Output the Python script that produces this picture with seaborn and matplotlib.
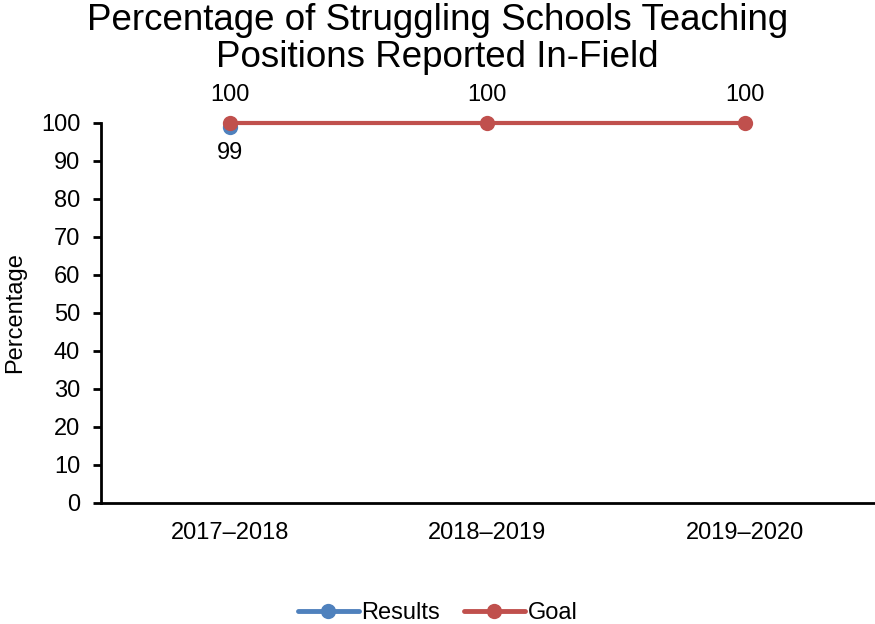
import numpy as np
import pandas as pd
import matplotlib
matplotlib.use('Agg')
import matplotlib.pyplot as plt
import seaborn as sns

# Chart data
years = ['2017–2018', '2018–2019', '2019–2020']
results = [99, np.nan, np.nan]
goal = [100, 100, 100]

sns.set_style('white')
plt.rcParams['font.family'] = ['Liberation Sans', 'DejaVu Sans']
plt.rcParams['text.color'] = 'black'
plt.rcParams['axes.labelcolor'] = 'black'
plt.rcParams['xtick.color'] = 'black'
plt.rcParams['ytick.color'] = 'black'

df = pd.DataFrame({'Year': years, 'Results': results, 'Goal': goal})
long = df.melt(id_vars='Year', var_name='Series', value_name='Value')

fig = plt.figure(figsize=(8.75, 6.24), dpi=100)
ax = fig.add_axes([0.1154, 0.194, 0.883, 0.609])

palette = {'Results': '#4F81BD', 'Goal': '#C0504D'}
sns.lineplot(data=long, x='Year', y='Value', hue='Series', palette=palette,
             marker='o', markersize=11, markeredgewidth=0, linewidth=3,
             sort=False, ax=ax, legend=False)
for ln in ax.lines:
    ln.set_clip_on(False)

# data labels
for i, v in enumerate(results):
    if not np.isnan(v):
        ax.annotate(f'{v:.0f}', (i, v), xytext=(0, -11), textcoords='offset points',
                    ha='center', va='top', fontsize=17)
for i, v in enumerate(goal):
    ax.annotate(f'{v:.0f}', (i, v), xytext=(0, 12), textcoords='offset points',
                ha='center', va='bottom', fontsize=17)

ax.set_xlim(-0.5, 2.5)
ax.set_ylim(0, 100)
ax.set_yticks(range(0, 101, 10))
ax.set_xlabel('')
ax.set_ylabel('Percentage', fontsize=17)
ax.yaxis.set_label_coords(-0.097, 0.5)
ax.tick_params(axis='y', labelsize=17, length=6, width=2, direction='out', left=True, pad=9)
ax.tick_params(axis='x', labelsize=17, length=0, pad=14)
for s in ['top', 'right']:
    ax.spines[s].set_visible(False)
for s in ['left', 'bottom']:
    ax.spines[s].set_linewidth(2)
    ax.spines[s].set_color('black')

fig.suptitle('Percentage of Struggling Schools Teaching\nPositions Reported In-Field',
             fontsize=26.5, y=0.995, x=0.5, linespacing=1.08)

handles = [plt.Line2D([], [], color=palette[k], marker='o', markersize=11,
                      markeredgewidth=0, linewidth=3.5) for k in ['Results', 'Goal']]
fig.legend(handles, ['Results', 'Goal'], loc='lower center', ncol=2,
           bbox_to_anchor=(0.5, -0.034), frameon=False, fontsize=17,
           handlelength=2.6, handletextpad=0.1, columnspacing=1.0)

fig.savefig('out.png', dpi=100)
